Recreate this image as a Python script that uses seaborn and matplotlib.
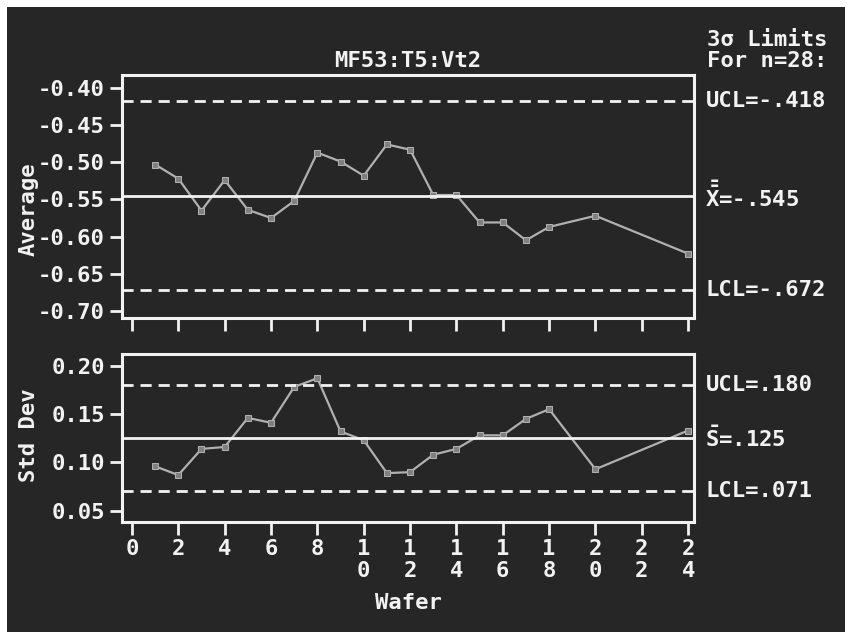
import numpy as np
import pandas as pd
import matplotlib
matplotlib.use('Agg')
import matplotlib.pyplot as plt
import matplotlib.transforms as mtransforms
from matplotlib.ticker import FormatStrFormatter
import seaborn as sns

# wafers sampled (19, 21-23 not measured)
wafer = [1, 2, 3, 4, 5, 6, 7, 8, 9, 10, 11, 12, 13, 14, 15, 16, 17, 18, 20, 24]
avg = [-0.503, -0.522, -0.565, -0.524, -0.564, -0.575, -0.552, -0.487, -0.499, -0.518,
       -0.476, -0.483, -0.544, -0.544, -0.581, -0.581, -0.605, -0.587, -0.572, -0.623]
std = [0.096, 0.087, 0.114, 0.116, 0.146, 0.141, 0.178, 0.187, 0.132, 0.123,
       0.089, 0.090, 0.108, 0.114, 0.128, 0.128, 0.145, 0.155, 0.093, 0.133]

# control limits
avg_limits = {'ucl': -0.418, 'center': -0.545, 'lcl': -0.672}
std_limits = {'ucl': 0.180, 'center': 0.125, 'lcl': 0.071}
avg_labels = ['UCL=-.418', r'$\bar{\bar{\mathrm{X}}}$=-.545', 'LCL=-.672']
std_labels = ['UCL=.180', r'$\bar{\mathrm{S}}$=.125', 'LCL=.071']

avg_ticks = [-0.70, -0.65, -0.60, -0.55, -0.50, -0.45, -0.40]
std_ticks = [0.05, 0.10, 0.15, 0.20]
x_ticks = list(range(0, 25, 2))

df = pd.DataFrame({'wafer': wafer, 'avg': avg, 'std': std})

bg = '#262626'
fg = '#f2f2f2'
line_col = '#b0b0b0'

sns.set_theme(style='dark')
plt.rcParams['font.family'] = ['DejaVu Sans Mono', 'DejaVu Sans']
plt.rcParams['font.weight'] = 'bold'
plt.rcParams['axes.unicode_minus'] = False
plt.rcParams['mathtext.fontset'] = 'custom'
plt.rcParams['mathtext.rm'] = 'DejaVu Sans Mono:bold'
plt.rcParams['mathtext.bf'] = 'DejaVu Sans Mono:bold'

fig = plt.figure(figsize=(8.49, 6.35), dpi=100, facecolor='white')
# dark screen area of the photographed display
screen = plt.Rectangle((7 / 849, 3 / 635), 838 / 849, 625 / 635,
                       transform=fig.transFigure, facecolor=bg,
                       edgecolor='none', zorder=-10)
fig.add_artist(screen)

ax1 = fig.add_axes([0.1437, 0.4992, 0.6737, 0.3827])
ax2 = fig.add_axes([0.1437, 0.1787, 0.6737, 0.2638])

fs = 16


def draw_panel(ax, col, limits, labels, ticks, ylim):
    ax.set_facecolor(bg)
    sns.lineplot(data=df, x='wafer', y=col, ax=ax, color=line_col, lw=1.6,
                 marker='s', markersize=5, markeredgecolor=line_col,
                 markerfacecolor='#808080')
    ax.axhline(limits['ucl'], color=fg, lw=2, ls=(0, (4, 2.5)))
    ax.axhline(limits['center'], color=fg, lw=2)
    ax.axhline(limits['lcl'], color=fg, lw=2, ls=(0, (4, 2.5)))
    ax.set_xlim(-0.43, 24.25)
    ax.set_ylim(*ylim)
    ax.set_yticks(ticks)
    ax.yaxis.set_major_formatter(FormatStrFormatter('%.2f'))
    ax.set_xticks(x_ticks)
    for s in ax.spines.values():
        s.set_color(fg)
        s.set_linewidth(2.2)
    ax.tick_params(colors=fg, length=9, width=2, direction='out',
                   labelsize=fs, bottom=True, left=True)
    ax.grid(False)
    ax.set_xlabel('')
    ax.set_ylabel('')
    trans = mtransforms.blended_transform_factory(ax.transAxes, ax.transData)
    for key, lab in zip(['ucl', 'center', 'lcl'], labels):
        ax.text(1.02, limits[key], lab, transform=trans, color=fg, fontsize=fs,
                fontweight='bold', va='center', ha='left')


draw_panel(ax1, 'avg', avg_limits, avg_labels, avg_ticks, (-0.7096, -0.3825))
draw_panel(ax2, 'std', std_limits, std_labels, std_ticks, (0.039, 0.212))

ax1.set_xticklabels([])
ax2.set_xticklabels(['\n'.join(str(t)) for t in x_ticks], linespacing=1.15,
                    va='top')

ax1.set_title('MF53:T5:Vt2', color=fg, fontsize=fs, fontweight='bold', pad=6)
fig.text(0.833, 0.920, '3σ Limits\nFor n=28:', color=fg, fontsize=fs,
         fontweight='bold', ha='left', va='center', linespacing=1.05)
fig.text(0.034, 0.67, 'Average', rotation=90, color=fg, fontsize=fs,
         fontweight='bold', ha='center', va='center')
fig.text(0.034, 0.315, 'Std Dev', rotation=90, color=fg, fontsize=fs,
         fontweight='bold', ha='center', va='center')
fig.text(0.481, 0.05, 'Wafer', color=fg, fontsize=fs, fontweight='bold',
         ha='center', va='center')

fig.savefig('out.png', dpi=100, facecolor=fig.get_facecolor())
